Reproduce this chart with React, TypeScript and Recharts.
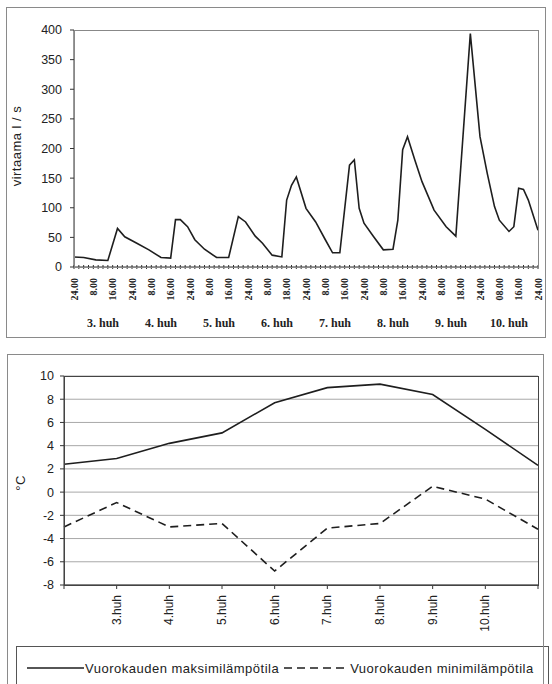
import { LineChart, Line, XAxis, YAxis, CartesianGrid, Legend } from "recharts";

// virtaama (l/s), tunnit laskettuna 2.huh klo 24 alkaen
const flowHours = [0, 4, 9, 14, 18, 21, 26, 31, 36, 40, 42, 44, 47, 50, 54, 59, 64, 68, 71, 75, 78, 82, 86, 88, 90, 92, 96, 100, 104, 107, 110, 114, 116, 118, 120, 124, 128, 132, 134, 136, 138, 141, 144, 149, 154, 158, 164, 168, 171, 174, 176, 180, 182, 184, 186, 188, 192];
const flowValues = [17, 16, 12, 11, 65, 51, 40, 29, 16, 15, 80, 80, 68, 46, 30, 16, 16, 85, 76, 52, 40, 20, 17, 113, 138, 152, 99, 76, 46, 24, 24, 172, 181, 99, 74, 51, 29, 30, 79, 198, 220, 181, 144, 96, 68, 52, 394, 220, 158, 102, 79, 60, 68, 133, 131, 113, 62];
const flowTicks = [0, 50, 100, 150, 200, 250, 300, 350, 400];
const timeLabels = ["24.00", "8.00", "16.00", "24.00", "8.00", "16.00", "24.00", "8.00", "16.00", "24.00", "8.00", "18.00", "24.00", "8.00", "16.00", "24.00", "8.00", "16.00", "24.00", "8.00", "18.00", "24.00", "08.00", "16.00", "24.00"];
const dayTicks = [12, 36, 60, 84, 108, 132, 156, 180];
const dayLabels = ["3. huh", "4. huh", "5. huh", "6. huh", "7. huh", "8. huh", "9. huh", "10. huh"];

// vuorokauden lämpötilat
const tempDays = ["", "3.huh", "4.huh", "5.huh", "6.huh", "7.huh", "8.huh", "9.huh", "10.huh", ""];
const tempMax = [2.4, 2.9, 4.2, 5.1, 7.7, 9.0, 9.3, 8.4, 5.4, 2.3];
const tempMin = [-3.0, -0.9, -3.0, -2.7, -6.8, -3.1, -2.7, 0.5, -0.6, -3.2];
const tempTicks = [-8, -6, -4, -2, 0, 2, 4, 6, 8, 10];

const flowData = flowHours.map((h, i) => ({ h, v: flowValues[i] }));
const tempData = tempDays.map((d, i) => ({ d, max: tempMax[i], min: tempMin[i] }));
const minorTicks = Array.from({ length: 97 }, (_, i) => i * 2);

const ink = "#1e1e1e";
const sans = "Liberation Sans, Arial, sans-serif";
const serif = "Liberation Serif, Times New Roman, serif";

const HourTick = ({ x, y, payload }: any) => {
  const h = payload.value;
  return (
    <g>
      <line x1={x} x2={x} y1={y - 2} y2={y + 2} stroke="#333" />
      {h % 8 === 0 && (
        <text
          x={x}
          y={y + 11}
          transform={`rotate(-90 ${x} ${y + 11})`}
          textAnchor="end"
          dominantBaseline="central"
          fontSize={10}
          fontWeight="bold"
          fontFamily={serif}
          fill="#222"
        >
          {timeLabels[h / 8]}
        </text>
      )}
    </g>
  );
};

const DayTick = ({ x, y, payload }: any) => {
  if (!payload.value) return null;
  return (
    <text
      x={x}
      y={y}
      transform={`rotate(-90 ${x} ${y})`}
      textAnchor="end"
      dominantBaseline="central"
      fontSize={12}
      fontFamily={sans}
      fill="#222"
    >
      {payload.value}
    </text>
  );
};

// titles use their own prop names so the Label wrapper cannot move them
const AxisTitle = ({ text, tx, ty }: any) => (
  <text
    x={tx}
    y={ty}
    transform={`rotate(-90 ${tx} ${ty})`}
    textAnchor="middle"
    dominantBaseline="central"
    fontSize={13}
    letterSpacing={0.5}
    fontFamily={sans}
    fill="#222"
  >
    {text}
  </text>
);

const TempLegend = () => (
  <div
    style={{
      border: "1px solid #555",
      height: 44,
      boxSizing: "border-box",
      display: "flex",
      alignItems: "center",
      paddingLeft: 10,
      fontFamily: sans,
      fontSize: 13,
      letterSpacing: 0.5,
      color: "#222",
      whiteSpace: "nowrap",
    }}
  >
    <svg width={58} height={6}>
      <line x1={0} x2={57} y1={3} y2={3} stroke={ink} strokeWidth={1.6} />
    </svg>
    <span>Vuorokauden maksimilämpötila</span>
    <svg width={66} height={6} style={{ marginLeft: 3 }}>
      <line x1={2} x2={62} y1={3} y2={3} stroke={ink} strokeWidth={1.6} strokeDasharray="8 5" />
    </svg>
    <span style={{ marginLeft: 2 }}>Vuorokauden minimilämpötila</span>
  </div>
);

const frame = (left: number, top: number, width: number, height: number, color: string) => (
  <div
    style={{
      position: "absolute",
      left,
      top,
      width,
      height,
      border: `1px solid ${color}`,
      boxSizing: "border-box",
      pointerEvents: "none",
    }}
  />
);

export default function App() {
  return (
    <div style={{ position: "absolute", left: 0, top: 0, width: 552, height: 684, background: "#fff", overflow: "hidden" }}>
      <div style={{ position: "absolute", left: 0, top: 0 }}>
        <LineChart width={552} height={345} data={flowData} margin={{ top: 30, right: 14, left: 0, bottom: 13 }}>
          <XAxis
            xAxisId="b"
            type="number"
            dataKey="h"
            domain={[0, 192]}
            ticks={dayTicks}
            interval={0}
            tickFormatter={(v: number) => dayLabels[(v - 12) / 24]}
            axisLine={false}
            tickLine={false}
            tickMargin={5}
            height={25}
            tick={{ fontSize: 12, fontWeight: "bold", fontFamily: serif, fill: "#222" }}
          />
          <XAxis
            xAxisId="a"
            type="number"
            dataKey="h"
            domain={[0, 192]}
            ticks={minorTicks}
            interval={0}
            tick={<HourTick />}
            tickLine={false}
            tickSize={0}
            tickMargin={0}
            height={40}
            axisLine={{ stroke: "#333" }}
          />
          <YAxis
            width={74}
            domain={[0, 400]}
            ticks={flowTicks}
            interval={0}
            tickSize={4}
            tickMargin={8}
            axisLine={{ stroke: "#333" }}
            tickLine={{ stroke: "#333" }}
            tick={{ fontSize: 12.5, fontFamily: sans, fill: "#222" }}
            label={<AxisTitle text="virtaama l / s" tx={16} ty={146} />}
          />
          <Line xAxisId="a" type="linear" dataKey="v" stroke={ink} strokeWidth={1.6} dot={false} isAnimationActive={false} />
        </LineChart>
      </div>

      <div style={{ position: "absolute", left: 0, top: 345 }}>
        <LineChart width={552} height={339} data={tempData} margin={{ top: 31, right: 14, left: 0, bottom: 44 }}>
          <CartesianGrid vertical={false} stroke="#a8a8a8" />
          <XAxis
            dataKey="d"
            interval={0}
            height={55}
            tickSize={4}
            tickMargin={6}
            axisLine={{ stroke: "#333" }}
            tickLine={{ stroke: "#333" }}
            tick={<DayTick />}
          />
          <YAxis
            width={64}
            domain={[-8, 10]}
            ticks={tempTicks}
            interval={0}
            tickSize={4}
            tickMargin={6}
            axisLine={{ stroke: "#333" }}
            tickLine={{ stroke: "#333" }}
            tick={{ fontSize: 12.5, fontFamily: sans, fill: "#222" }}
            label={<AxisTitle text="°C" tx={20} ty={138} />}
          />
          <Line dataKey="max" type="linear" stroke={ink} strokeWidth={1.6} dot={false} isAnimationActive={false} />
          <Line dataKey="min" type="linear" stroke={ink} strokeWidth={1.6} strokeDasharray="8 5" dot={false} isAnimationActive={false} />
          <Legend
            layout="horizontal"
            verticalAlign="middle"
            align="center"
            wrapperStyle={{ top: 301, left: 16, width: 533 }}
            content={<TempLegend />}
          />
        </LineChart>
      </div>

      {frame(6, 7, 540, 331, "#8a8a8a")}
      {frame(74, 30, 465, 238, "#888")}
      {frame(7, 354, 537, 340, "#8a8a8a")}
      {frame(64, 376, 475, 210, "#444")}
    </div>
  );
}
